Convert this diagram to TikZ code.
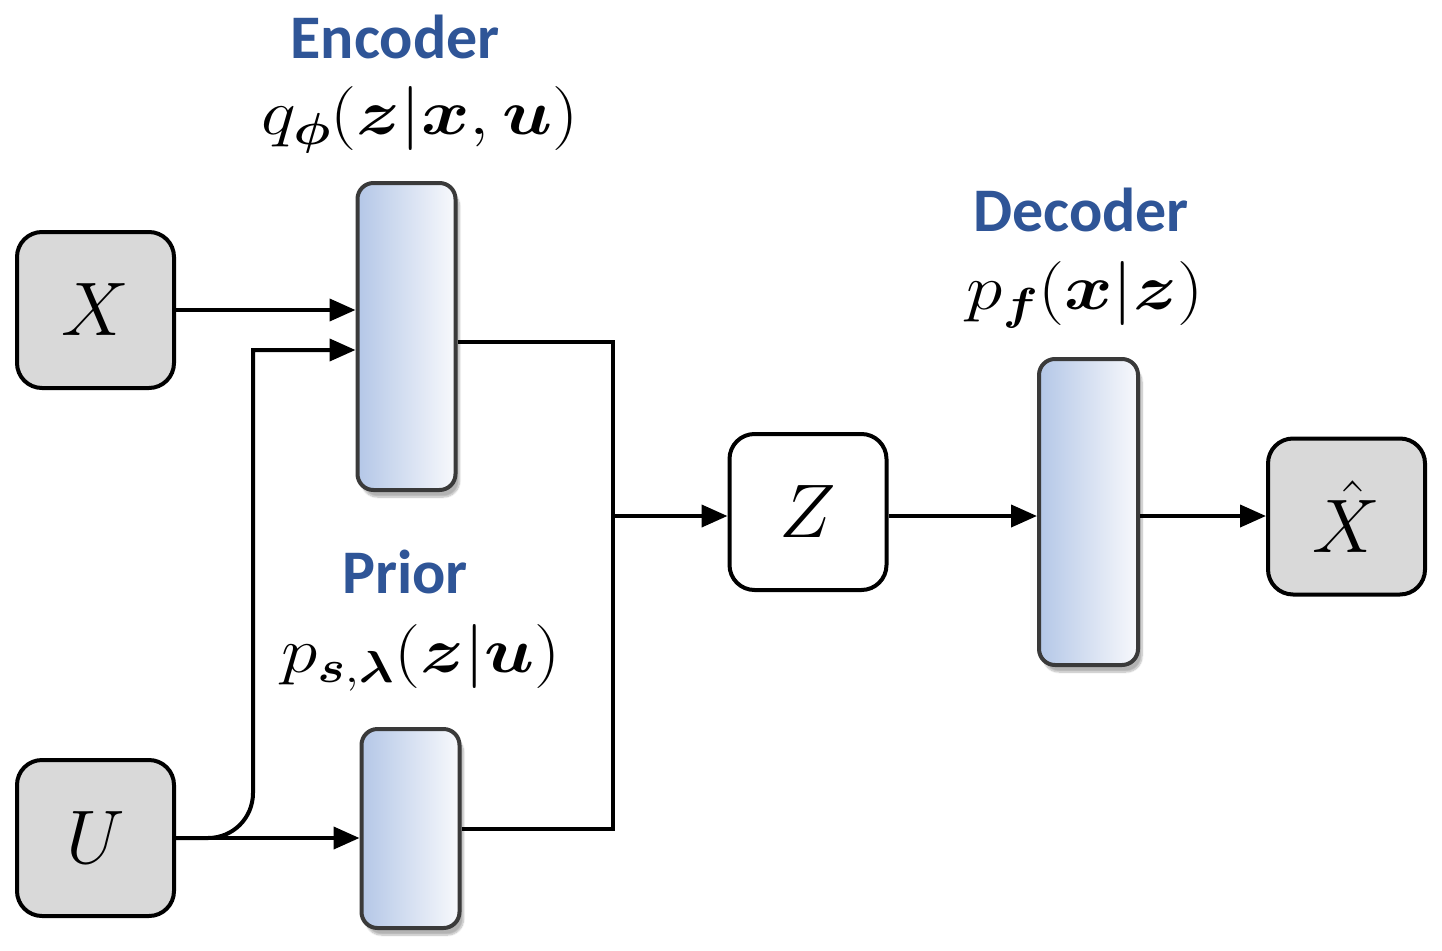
\RequirePackage{fix-cm}
\documentclass[tikz,border=0pt]{standalone}
\usepackage{amsmath}
\usepackage{bm}
\usepackage{graphicx}
\usepackage{fontspec}
\setsansfont{Carlito}
\usetikzlibrary{arrows.meta,shadows.blur,calc}
\definecolor{boxgray}{HTML}{D9D9D9}
\definecolor{titleblue}{HTML}{2F5597}
\definecolor{nnleft}{HTML}{B4C7E7}
\definecolor{nnright}{HTML}{F8F9FC}
\definecolor{nnborder}{HTML}{3A3A3A}
\newcommand{\widemath}[1]{\scalebox{1.15}[1.0]{$#1$}}
\begin{document}
\begin{tikzpicture}[x=1pt,y=-1pt,
  varbox/.style={draw=black,line width=4pt,rounded corners=25pt,minimum width=157pt,minimum height=156pt,inner sep=0pt,font=\fontsize{76}{80}\selectfont},
  nnbox/.style={draw=nnborder,line width=4pt,rounded corners=16pt,inner sep=0pt,minimum width=98pt,left color=nnleft,right color=nnright,
    blur shadow={shadow xshift=4pt,shadow yshift=-7pt,shadow opacity=30,shadow blur steps=8}},
  title/.style={font=\sffamily\bfseries\fontsize{62}{70}\selectfont,text=titleblue,inner sep=0pt},
  mathlbl/.style={font=\fontsize{64}{72}\selectfont,inner sep=0pt},
  arr/.style={line width=4pt,-{Triangle[length=26pt,width=22pt]}},
  wire/.style={line width=4pt}]
\useasboundingbox (0,0) rectangle (1442,950);

% variable boxes
\node[varbox,fill=boxgray] (X) at (95.5,310) {$X$};
\node[varbox,fill=boxgray] (U) at (95.5,838) {$U$};
\node[varbox,fill=white] (Z) at (808,512) {$Z$};
\node[varbox,fill=boxgray] (Xh) at (1346.5,516.5) {$\hat{X}$};

% network boxes
\node[nnbox,minimum height=307pt] (enc) at (406.5,336.5) {};
\node[nnbox,minimum height=199pt] (prior) at (410.5,828.5) {};
\node[nnbox,minimum height=306pt,minimum width=99pt] (dec) at (1088.5,512) {};

% labels
\node[title] (enct) at (395,37) {Encoder};
\node[mathlbl] (encm) at (420,120) {\widemath{q_{\bm{\phi}}(\bm{z}|\bm{x},\bm{u})}};
\node[title] (dect) at (1081,210) {Decoder};
\node[mathlbl] (decm) at (1085,295) {\widemath{p_{\bm{f}}(\bm{x}|\bm{z})}};
\node[title] (prt) at (405,572) {Prior};
\node[mathlbl] (prm) at (421,658) {\widemath{p_{\bm{s},\bm{\lambda}}(\bm{z}|\bm{u})}};

% connectors
\draw[arr] (X.east) -- (X.east -| enc.west);
\draw[arr] (U.east) -- (208,838) .. controls (233,838) and (253,818) .. (253,793) -- (253,350) -- (enc.west |- 0,350);
\draw[arr] (U.east) -- (U.east -| prior.west);
\coordinate (J) at (613,516);
\draw[wire] ($(enc.east)+(0,5.5)$) -| (J);
\draw[wire] (prior.east) -| (J);
\draw[arr] (J) -- (J -| Z.west);
\draw[arr] (J -| Z.east) -- (J -| dec.west);
\draw[arr] (J -| dec.east) -- (J -| Xh.west);
\end{tikzpicture}
\end{document}
